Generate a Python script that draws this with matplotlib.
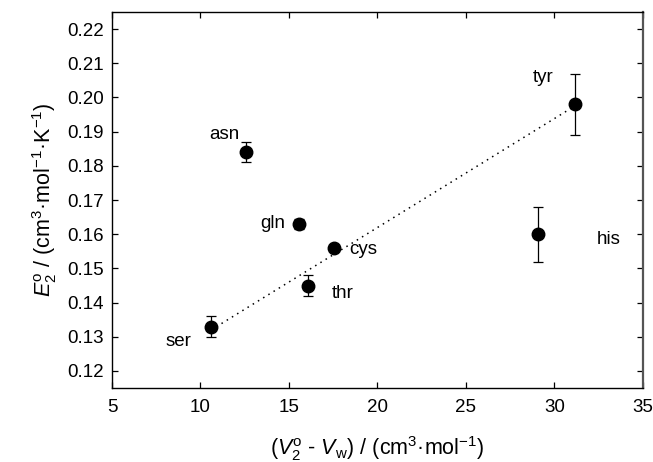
#!/usr/bin/env python3
"""E2 vs (V2 - Vw) scatter for amino acids with error bars and fit line."""

import matplotlib

matplotlib.use("Agg")
import matplotlib.pyplot as plt

plt.rcParams["font.family"] = ["Liberation Sans", "DejaVu Sans"]
plt.rcParams["mathtext.fontset"] = "custom"
plt.rcParams["mathtext.rm"] = "Liberation Sans"
plt.rcParams["mathtext.it"] = "Liberation Sans:italic"

NAMES = ["ser", "asn", "gln", "thr", "cys", "his", "tyr"]
X_VALS = [10.6, 12.6, 15.55, 16.1, 17.55, 29.1, 31.15]
Y_VALS = [0.133, 0.184, 0.163, 0.145, 0.156, 0.160, 0.198]
Y_ERR = [0.003, 0.003, 0.0015, 0.003, 0.0, 0.008, 0.009]

FIT_X = [10.6, 31.15]
FIT_Y = [0.132, 0.1975]

# label offsets (points) and alignment for each point label
LABEL_OFFSETS = {
    "ser": (-14, -11, "right"),
    "asn": (-5, 13, "right"),
    "gln": (-10, 0, "right"),
    "thr": (17, -6, "left"),
    "cys": (11, -1, "left"),
    "his": (42, -4, "left"),
    "tyr": (-15, 19, "right"),
}


def main() -> None:
    fig = plt.figure(figsize=(6.53, 4.62), dpi=100)
    ax = fig.add_axes([0.1715, 0.160, 0.813, 0.814])

    ax.plot(FIT_X, FIT_Y, color="black", lw=1.1, ls=(0, (1, 3)))
    ax.errorbar(
        X_VALS, Y_VALS, yerr=Y_ERR, fmt="o", color="black", ms=9,
        ecolor="black", elinewidth=0.9, capsize=3.5, capthick=0.9, zorder=3,
    )

    for name, x, y in zip(NAMES, X_VALS, Y_VALS):
        dx, dy, ha = LABEL_OFFSETS[name]
        ax.annotate(name, (x, y), xytext=(dx, dy), textcoords="offset points",
                    ha=ha, va="center", fontsize=13.5)

    ax.set_xlim(5, 35)
    ax.set_ylim(0.115, 0.225)
    ax.set_xticks([5, 10, 15, 20, 25, 30, 35])
    ax.set_yticks([0.12, 0.13, 0.14, 0.15, 0.16, 0.17, 0.18, 0.19, 0.20, 0.21, 0.22])
    ax.set_yticklabels([f"{v:.2f}" for v in ax.get_yticks()])
    ax.tick_params(direction="in", length=4, width=0.9, labelsize=13.5,
                   top=True, right=True)
    ax.tick_params(axis="x", pad=8)
    ax.tick_params(axis="y", pad=6)
    for spine in ax.spines.values():
        spine.set_linewidth(1.0)
    ax.spines["right"].set_color("#555555")
    ax.spines["right"].set_linewidth(1.6)

    ax.set_xlabel(r"($V_2^{\mathrm{o}}$ - $V_\mathrm{w}$) / (cm$^3$·mol$^{-1}$)",
                  fontsize=15.5, labelpad=13)
    ax.set_ylabel(r"$E_2^{\mathrm{o}}$ / (cm$^3$·mol$^{-1}$·K$^{-1}$)",
                  fontsize=15.5, labelpad=6)

    fig.savefig("out.png", dpi=100)
    plt.close(fig)


if __name__ == "__main__":
    main()
